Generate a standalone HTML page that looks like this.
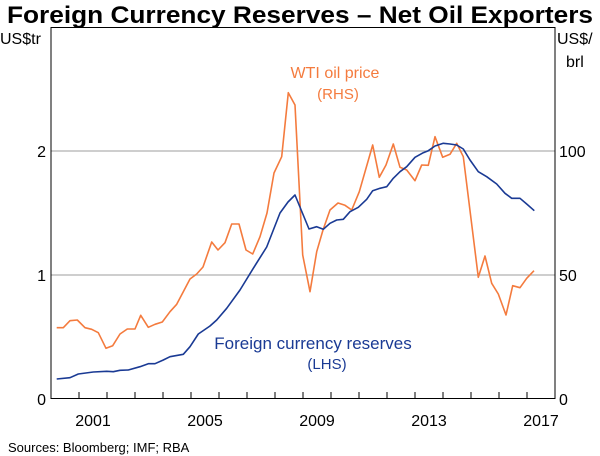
<!DOCTYPE html>
<html><head><meta charset="utf-8"><style>
html,body{margin:0;padding:0;background:#fff;}
svg{display:block;font-family:"Liberation Sans",Arial,sans-serif;}
</style></head><body>
<svg width="600" height="456" viewBox="0 0 600 456" xmlns="http://www.w3.org/2000/svg">
<text x="7" y="23" font-size="24" font-weight="bold" fill="#000" textLength="586" lengthAdjust="spacingAndGlyphs">Foreign Currency Reserves – Net Oil Exporters</text>
<text x="0" y="44" font-size="16" fill="#000">US$tr</text>
<text x="557" y="44" font-size="16" fill="#000">US$/</text>
<text x="566" y="67" font-size="16" fill="#000">brl</text>
<line x1="51" y1="151" x2="555" y2="151" stroke="#b0b0b0" stroke-width="1.3"/>
<line x1="51" y1="275" x2="555" y2="275" stroke="#b0b0b0" stroke-width="1.3"/>
<rect x="51" y="27.5" width="504" height="371" fill="none" stroke="#000" stroke-width="1"/>
<g stroke="#000" stroke-width="1">
<line x1="79" y1="398.5" x2="79" y2="392"/><line x1="107" y1="398.5" x2="107" y2="392"/><line x1="135" y1="398.5" x2="135" y2="392"/><line x1="163" y1="398.5" x2="163" y2="392"/><line x1="191" y1="398.5" x2="191" y2="392"/><line x1="219" y1="398.5" x2="219" y2="392"/><line x1="247" y1="398.5" x2="247" y2="392"/><line x1="275" y1="398.5" x2="275" y2="392"/><line x1="303" y1="398.5" x2="303" y2="392"/><line x1="331" y1="398.5" x2="331" y2="392"/><line x1="359" y1="398.5" x2="359" y2="392"/><line x1="387" y1="398.5" x2="387" y2="392"/><line x1="415" y1="398.5" x2="415" y2="392"/><line x1="443" y1="398.5" x2="443" y2="392"/><line x1="471" y1="398.5" x2="471" y2="392"/><line x1="499" y1="398.5" x2="499" y2="392"/><line x1="527" y1="398.5" x2="527" y2="392"/>
</g>
<g font-size="16" fill="#000">
<text x="46" y="157" text-anchor="end">2</text>
<text x="46" y="281" text-anchor="end">1</text>
<text x="46" y="405" text-anchor="end">0</text>
<text x="559" y="157">100</text>
<text x="559" y="281">50</text>
<text x="559" y="405">0</text>
<text x="93" y="426" text-anchor="middle">2001</text>
<text x="205" y="426" text-anchor="middle">2005</text>
<text x="317" y="426" text-anchor="middle">2009</text>
<text x="429" y="426" text-anchor="middle">2013</text>
<text x="541" y="426" text-anchor="middle">2017</text>
</g>
<text x="8" y="452" font-size="13" fill="#000">Sources: Bloomberg; IMF; RBA</text>
<polyline fill="none" stroke="#f47b3e" stroke-width="1.6" stroke-linejoin="round" points="56.7,327.7 63.3,327.7 70,320.7 77.3,320 85,327.7 91.7,329.3 98.3,332.7 106,348.3 112.7,345.7 120,334 127.3,329 135,329 140.7,315.3 148.3,327.3 155,324.3 162.3,322 170,311.7 176.7,304.3 183.3,291.7 190,279 196.7,274 203,267 211.7,242 218,250 225,242.7 231.7,224 239,224 246,250 252.7,254 260,236.7 267,213 274,173 281.7,156.7 288.3,92.7 295,105 302.7,255 310,291.7 316.7,251.7 323,230 330,210 338,203 345,205.3 351.7,210 359.3,191.7 372.7,145 379.3,177.3 386,165 393.3,144 400,167.3 406.7,170 415,180.7 421.7,165 428.3,165.3 435,136.7 442.7,157.3 450,154.3 456.7,143.3 463.3,156.7 478.3,277.3 485,256 491.7,283.3 498.3,294 506,315 512.7,285.7 520,287.7 526.7,278.3 534,270.7"/>
<polyline fill="none" stroke="#1a3a94" stroke-width="1.6" stroke-linejoin="round" points="56.7,379 70,377.7 78.3,374 93.3,372 106.7,371.3 113.3,371.7 120,370.3 128.3,370 140,366.7 148.3,363.7 155,363.7 163.3,360 170,356.7 183.3,354.3 190,346.7 198.3,334 210,326 216.7,320 226.7,308.3 240,290 253.3,268.3 266.7,247 280,213 288,202 295,195 309,229 316.7,226.7 323.3,229.3 330,223.3 336.7,220 343.3,219.3 350,211.7 358.3,207.3 366.7,199.3 372.7,190.7 380,188.3 386.7,186.7 393.3,178.3 400,171.7 406.7,166.7 415,157.3 423.3,152.7 428.3,150.7 435,146 443.3,143.3 450,144 456.7,145 463.3,149 470,160 478.3,171.7 486.7,176.7 496.7,184 505,193.3 511.7,198.3 520,198.3 526.7,204 534.3,210.7"/>
<text x="335" y="78" text-anchor="middle" font-size="16" fill="#f47b3e">WTI oil price</text>
<text x="338" y="99" text-anchor="middle" font-size="15" fill="#f47b3e">(RHS)</text>
<text x="313" y="349" text-anchor="middle" font-size="17" fill="#1a3a94">Foreign currency reserves</text>
<text x="327" y="369" text-anchor="middle" font-size="15" fill="#1a3a94">(LHS)</text>
</svg>
</body></html>
